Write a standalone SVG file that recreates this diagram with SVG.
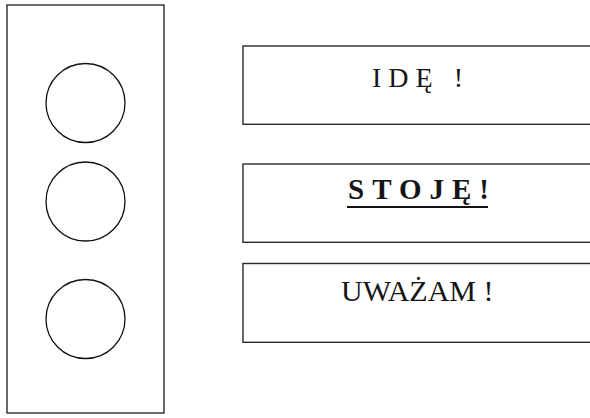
<svg xmlns="http://www.w3.org/2000/svg" width="590" height="418" viewBox="0 0 590 418">
<style>
.frame{fill:#fff;stroke:#2a2a2a;stroke-width:1.4}
.lamp{fill:none;stroke:#111;stroke-width:1.3}
.lbl{font-family:"Liberation Serif","Times New Roman",serif;fill:#151515}
</style>
<rect width="590" height="418" fill="#fff"/>
<g id="traffic-light">
<rect class="frame" x="7" y="5" width="157" height="408"/>
<circle id="lamp-top" class="lamp" cx="85.5" cy="103" r="39.5"/>
<circle id="lamp-mid" class="lamp" cx="85.5" cy="201.5" r="39.5"/>
<circle id="lamp-bot" class="lamp" cx="85.5" cy="319" r="39.5"/>
</g>
<g id="connectors"></g>
<g id="box-ide">
<rect class="frame" x="243" y="46" width="360" height="78.3"/>
<text class="lbl" x="372" y="87" font-size="28" letter-spacing="7">IDĘ !</text>
</g>
<g id="box-stoje">
<rect class="frame" x="243" y="164" width="360" height="78.3"/>
<text class="lbl" x="348" y="199" font-size="29" font-weight="bold" letter-spacing="8">STOJĘ!</text>
<line x1="347" y1="207" x2="488" y2="207" stroke="#111" stroke-width="2.2"/>
</g>
<g id="box-uwazam">
<rect class="frame" x="243" y="263.5" width="360" height="78.8"/>
<text class="lbl" x="341" y="300.5" font-size="30">UWAŻAM !</text>
</g>
</svg>
